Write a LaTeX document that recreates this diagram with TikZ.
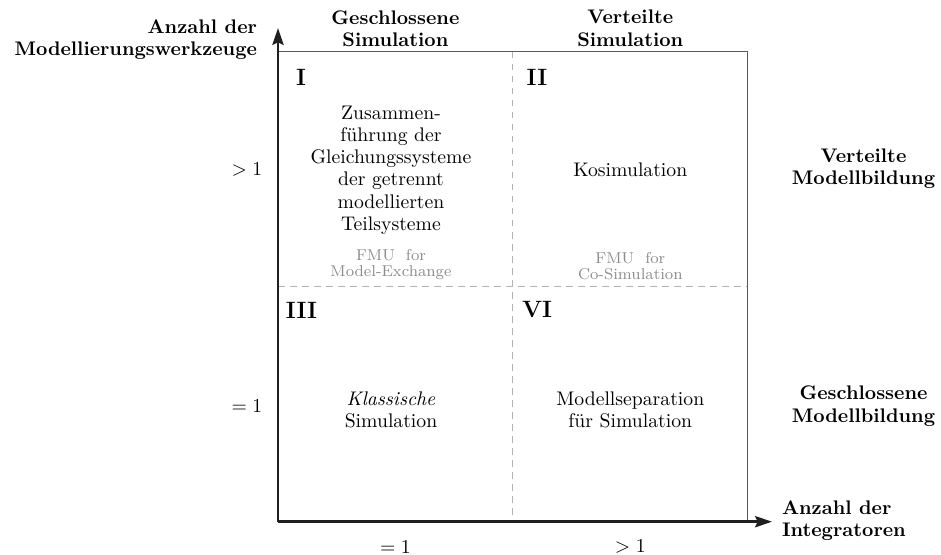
\documentclass[tikz,border=0pt]{standalone}
\usetikzlibrary{arrows.meta}
\begin{document}
\begin{tikzpicture}[
  x=0.508pt, y=-0.508pt,
  every node/.style={inner sep=0pt, outer sep=0pt},
  axis/.style={line width=1.5pt, draw=black!88, -{Stealth[length=8.5pt,width=5.6pt,inset=1.2pt]}},
  frameline/.style={draw=black!65, line width=0.6pt},
  divider/.style={draw=black!30, line width=0.6pt, dash pattern=on 3.5pt off 2.6pt},
  quadtext/.style={align=center, font={\fontsize{10}{11.3}\selectfont}},
  fmutext/.style={align=center, font={\fontsize{8}{8.2}\selectfont}, text=black!45},
  numeral/.style={font=\large\bfseries},
  headlabel/.style={align=center, font={\fontsize{10}{11.4}\selectfont\bfseries}},
  ticklabel/.style={font=\normalsize},
]
\useasboundingbox (0,0) rectangle (941,555);

% corner points of the square diagram
\coordinate (O)  at (278,521.7);
\coordinate (TL) at (278,51.5);
\coordinate (TR) at (747.7,51.5);
\coordinate (BR) at (747.7,521.7);
\coordinate (MT) at (512.8,51.5);
\coordinate (MB) at (512.8,521.7);
\coordinate (ML) at (278,286.6);
\coordinate (MR) at (747.7,286.6);
\coordinate (Ytip) at (278,28);
\coordinate (Xtip) at (772,521.7);

% quadrant dividers
\draw[divider] (MT) -- (MB);
\draw[divider] (ML) -- (MR);

% outer frame
\draw[frameline] (TL) -- (TR) -- (BR);

% axes
\draw[axis] (O) -- (Ytip);
\draw[axis] (O) -- (Xtip);

% axis titles
\node[headlabel, align=right, anchor=east] (ytitle) at (257,39.5)
  {Anzahl der\\Modellierungswerkzeuge};
\node[headlabel, align=left, anchor=west] (xtitle) at (782,520.5)
  {Anzahl der\\Integratoren};

% column headings
\node[headlabel] (colA) at (395.4,28.5) {Geschlossene\\Simulation};
\node[headlabel] (colB) at (630.3,28.5) {Verteilte\\Simulation};

% row headings
\node[headlabel] (rowA) at (863.5,168.5) {Verteilte\\Modellbildung};
\node[headlabel] (rowB) at (863.5,406) {Geschlossene\\Modellbildung};

% tick values
\node[ticklabel] (yhi) at (247,170) {$>1$};
\node[ticklabel] (ylo) at (247,406) {$=1$};
\node[ticklabel] (xlo) at (395.4,547) {$=1$};
\node[ticklabel] (xhi) at (630.3,547) {$>1$};

% quadrant numbers
\node[numeral] (nI)   at (301,77)    {I};
\node[numeral] (nII)  at (537,77)    {II};
\node[numeral] (nIII) at (301.5,310) {III};
\node[numeral] (nVI)  at (537,310)   {VI};

% quadrant contents
\node[quadtext] (qI) at (391,170)
  {Zusammen-\\führung der\\Gleichungssysteme\\der getrennt\\modellierten\\Teilsysteme};
\node[fmutext] (fmuI) at (391,264.5) {FMU\ \ for\\Model-Exchange};

\node[quadtext] (qII) at (630.3,170) {Kosimulation};
\node[fmutext] (fmuII) at (630.3,266) {FMU\ \ for\\Co-Simulation};

\node[quadtext] (qIII) at (391,410) {\textit{Klassische}\\Simulation};
\node[quadtext] (qVI)  at (630.3,410) {Modellseparation\\für Simulation};
\end{tikzpicture}
\end{document}
